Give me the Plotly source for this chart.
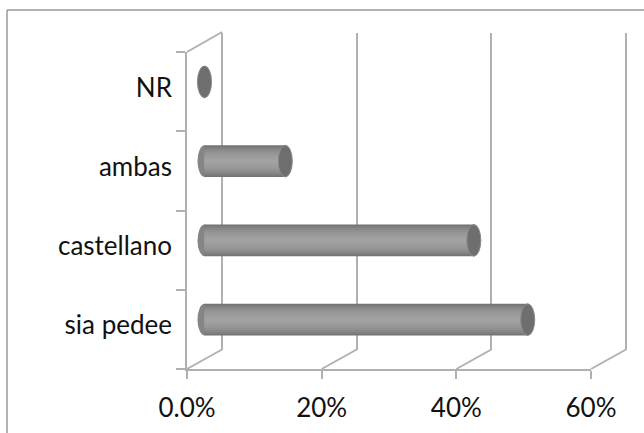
import plotly.graph_objects as go

# Survey answers (share of respondents)
categories = ["sia pedee", "castellano", "ambas", "NR"]
values = [48, 40, 12, 0]
tick_values = [0, 20, 40, 60]
tick_labels = ["0.0%", "20%", "40%", "60%"]

W, H = 644, 433
FONT = "Lato"
FRAME = "#b0b0b0"


def px(x):
    return x / W


def py(y):
    return 1 - y / H


# plot box (front face) and depth offset of the 3-D frame, in pixels
FX0, FX1, FY0, FY1 = 187, 591, 52, 369
DX, DY = 35, -19.5
scale = (FX1 - FX0) / 60.0          # pixels per percentage point
cap = 7.0 / scale                   # half-width of elliptical bar ends (data units)
PAD = 2.0                           # room on the bar axis for the rear end caps
GPAD = 1.0                          # room so the outer wall lines are not clipped

fig = go.Figure()

# cylinder bodies: stacked bands give a rounded shading
bands = [(0.40, "#737373"), (0.36, "#7e7e7e"), (0.32, "#878787"), (0.27, "#8f8f8f"),
         (0.22, "#969696"), (0.16, "#9b9b9b"), (0.10, "#9f9f9f"), (0.05, "#a2a2a2")]
for w, c in bands:
    fig.add_trace(go.Bar(
        x=values, y=categories, orientation="h", width=w,
        marker=dict(color=c, line=dict(width=0)),
        xaxis="x3", yaxis="y3", hoverinfo="skip", showlegend=False,
    ))

# invisible traces that make the frame axes render
fig.add_trace(go.Scatter(x=[None] * 4, y=categories, xaxis="x", yaxis="y4",
                         mode="markers", showlegend=False, hoverinfo="skip"))
fig.add_trace(go.Scatter(x=[0, 60], y=[categories[0], categories[0]], xaxis="x", yaxis="y",
                         mode="markers", marker=dict(opacity=0), showlegend=False, hoverinfo="skip"))
fig.add_trace(go.Scatter(x=[0, 60], y=[0, 1], xaxis="x2", yaxis="y2",
                         mode="markers", marker=dict(opacity=0), showlegend=False, hoverinfo="skip"))

shapes = []
for i, v in enumerate(values):
    # rear (left) rounded end
    shapes.append(dict(type="circle", xref="x3", yref="y3", layer="between",
                       x0=-cap, x1=cap, y0=i - 0.2, y1=i + 0.2,
                       fillcolor="#858585", line=dict(width=0)))
    # visible end cap
    shapes.append(dict(type="circle", xref="x3", yref="y3",
                       x0=v - cap, x1=v + cap, y0=i - 0.2, y1=i + 0.2,
                       fillcolor="#6e6e6e", line=dict(width=1, color="#8a8a8a")))

# floor and side-wall diagonals of the 3-D frame
for t in tick_values:
    xf = FX0 + t * scale
    shapes.append(dict(type="line", xref="paper", yref="paper",
                       x0=px(xf), y0=py(FY1), x1=px(xf + DX), y1=py(FY1 + DY),
                       line=dict(color=FRAME, width=2), layer="below"))
shapes.append(dict(type="line", xref="paper", yref="paper",
                   x0=px(FX0), y0=py(FY0), x1=px(FX0 + DX), y1=py(FY0 + DY - 0.5),
                   line=dict(color=FRAME, width=2), layer="below"))

# outer chart border (top and left edges)
shapes.append(dict(type="line", xref="paper", yref="paper",
                   x0=px(7), y0=py(10), x1=1.01, y1=py(10),
                   line=dict(color="#9a9a9a", width=1.5)))
shapes.append(dict(type="line", xref="paper", yref="paper",
                   x0=px(7), y0=py(10), x1=px(7), y1=-0.01,
                   line=dict(color="#9a9a9a", width=1.5)))

tick_font = dict(family=FONT, size=26, color="#111111")

fig.update_layout(
    template="none",
    width=W, height=H,
    margin=dict(l=0, r=0, t=0, b=0, pad=0),
    paper_bgcolor="white", plot_bgcolor="rgba(0,0,0,0)",
    barmode="overlay", showlegend=False,
    font=dict(family=FONT, size=26, color="#111111"),
    shapes=shapes,
    # front axes
    xaxis=dict(domain=[px(FX0), px(FX1)], range=[0, 60], anchor="y", automargin=False,
               tickvals=tick_values, ticktext=tick_labels,
               ticks="outside", ticklen=8, tickwidth=2, tickcolor=FRAME,
               showline=True, linecolor=FRAME, linewidth=2,
               showgrid=False, zeroline=False, ticklabelstandoff=7,
               tickfont=tick_font),
    yaxis=dict(domain=[py(FY1), py(FY0)], type="category", categoryorder="array",
               categoryarray=categories, range=[-0.5, 3.5], anchor="x", automargin=False,
               ticks="outside", ticklen=9, tickwidth=2, tickcolor=FRAME, tickson="boundaries",
               showline=True, linecolor=FRAME, linewidth=2,
               showgrid=False, showticklabels=False, zeroline=False),
    # back wall
    xaxis2=dict(domain=[px(FX0 + DX - GPAD * scale), px(FX1 + DX + GPAD * scale)],
                range=[-GPAD, 60 + GPAD], anchor="y2",
                automargin=False, tickvals=tick_values, showticklabels=False, showgrid=True,
                gridcolor=FRAME, gridwidth=2, zeroline=False, showline=False, ticks=""),
    yaxis2=dict(domain=[py(FY1 + DY), py(FY0 + DY)], range=[0, 1], anchor="x2",
                automargin=False, visible=False),
    # bars sit half-way into the depth
    xaxis3=dict(domain=[px(FX0 + DX / 2 - PAD * scale), px(FX1 + DX / 2)], range=[-PAD, 60],
                anchor="y3", automargin=False, visible=False),
    yaxis3=dict(domain=[py(FY1 + DY / 2), py(FY0 + DY / 2)], type="category",
                categoryorder="array", categoryarray=categories, range=[-0.5, 3.5],
                anchor="x3", automargin=False, visible=False),
    # category labels
    yaxis4=dict(domain=[py(FY1 - 4), py(FY0 - 4)], type="category", categoryorder="array",
                categoryarray=categories, range=[-0.5, 3.5], anchor="free", position=px(FX0),
                automargin=False, showline=False, ticks="", showgrid=False, zeroline=False,
                ticklabelstandoff=15, tickfont=tick_font),
)

fig.write_html("out.html")
